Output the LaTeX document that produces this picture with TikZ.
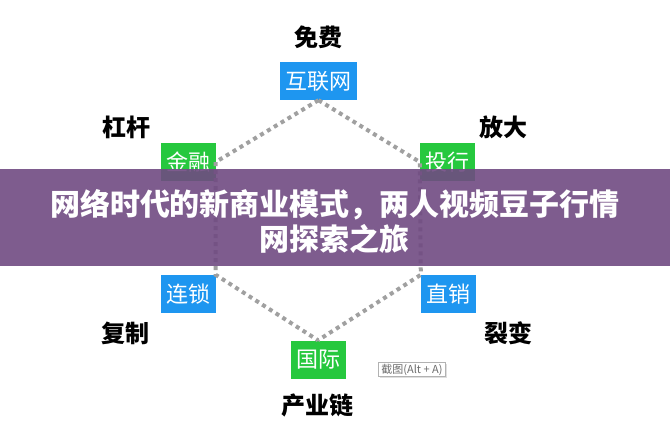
\documentclass[tikz,border=0pt]{standalone}
\usepackage{fontspec}
\setmainfont{Noto Sans CJK SC}
\usetikzlibrary{shadows}
\definecolor{boxblue}{RGB}{30,150,240}
\definecolor{boxgreen}{RGB}{38,200,62}
\definecolor{bannerpurple}{RGB}{112,74,130}
\definecolor{dotgray}{RGB}{160,160,160}

\begin{document}
\begin{tikzpicture}[x=1pt,y=-1pt,
    modebox/.style={text=white, font=\fontsize{22}{22}\selectfont, inner xsep=5.5pt, inner ysep=0pt,
                    minimum height=38pt, text height=18.3pt, text depth=1.5pt},
    bluebox/.style={modebox, fill=boxblue},
    greenbox/.style={modebox, fill=boxgreen},
    keyword/.style={font=\fontsize{24}{24}\selectfont\bfseries},
    hexline/.style={dotgray, line width=4pt, dash pattern=on 4pt off 4pt}]
    % Fijar el marco de la imagen
    \useasboundingbox (0,0) rectangle (670,437);

    % Cajas del hexagono
    \node[bluebox]  (web)    at (318.5,81)  {互联网};
    \node[greenbox] (fin)    at (188,162)   {金融};
    \node[greenbox] (inv)    at (447.5,162) {投行};
    \node[bluebox]  (chain)  at (188,294)   {连锁};
    \node[bluebox]  (direct) at (448.5,294) {直销};
    \node[greenbox] (intl)   at (318,359.5) {国际};

    % Palabras clave alrededor
    \node[keyword] (free)    at (318,37)  {免费};
    \node[keyword] (lever)   at (126,127) {杠杆};
    \node[keyword] (amplify) at (503,127) {放大};
    \node[keyword] (copy)    at (125,333) {复制};
    \node[keyword] (fission) at (508,333) {裂变};
    \node[keyword] (industry) at (317,405) {产业链};

    % Dibujar el hexagono punteado
    \draw[hexline] (web.south) -- (fin.east) -- (chain.north east) -- (intl.north);
    \draw[hexline] (web.south) -- (inv.west) -- (direct.north west) -- (intl.north);

    % Etiqueta de captura
    \node[draw=gray!60, fill=white, text=gray!85!black, font=\fontsize{11}{12}\selectfont,
          inner xsep=3pt, inner ysep=1.5pt,
          drop shadow={opacity=0.25, shadow xshift=1.2pt, shadow yshift=-1.2pt}] (tip) at (412,369.5) {截图(Alt + A)};

    % Franja del titulo
    \node[fill=bannerpurple, fill opacity=0.9, minimum width=670pt, minimum height=97pt,
          inner sep=0pt] (banner) at (335,217.5) {};
    \node[text=white, align=center, font=\fontsize{30}{35}\selectfont\bfseries] (title) at (335,221)
        {网络时代的新商业模式，两人视频豆子行情\\网探索之旅};
\end{tikzpicture}
\end{document}
